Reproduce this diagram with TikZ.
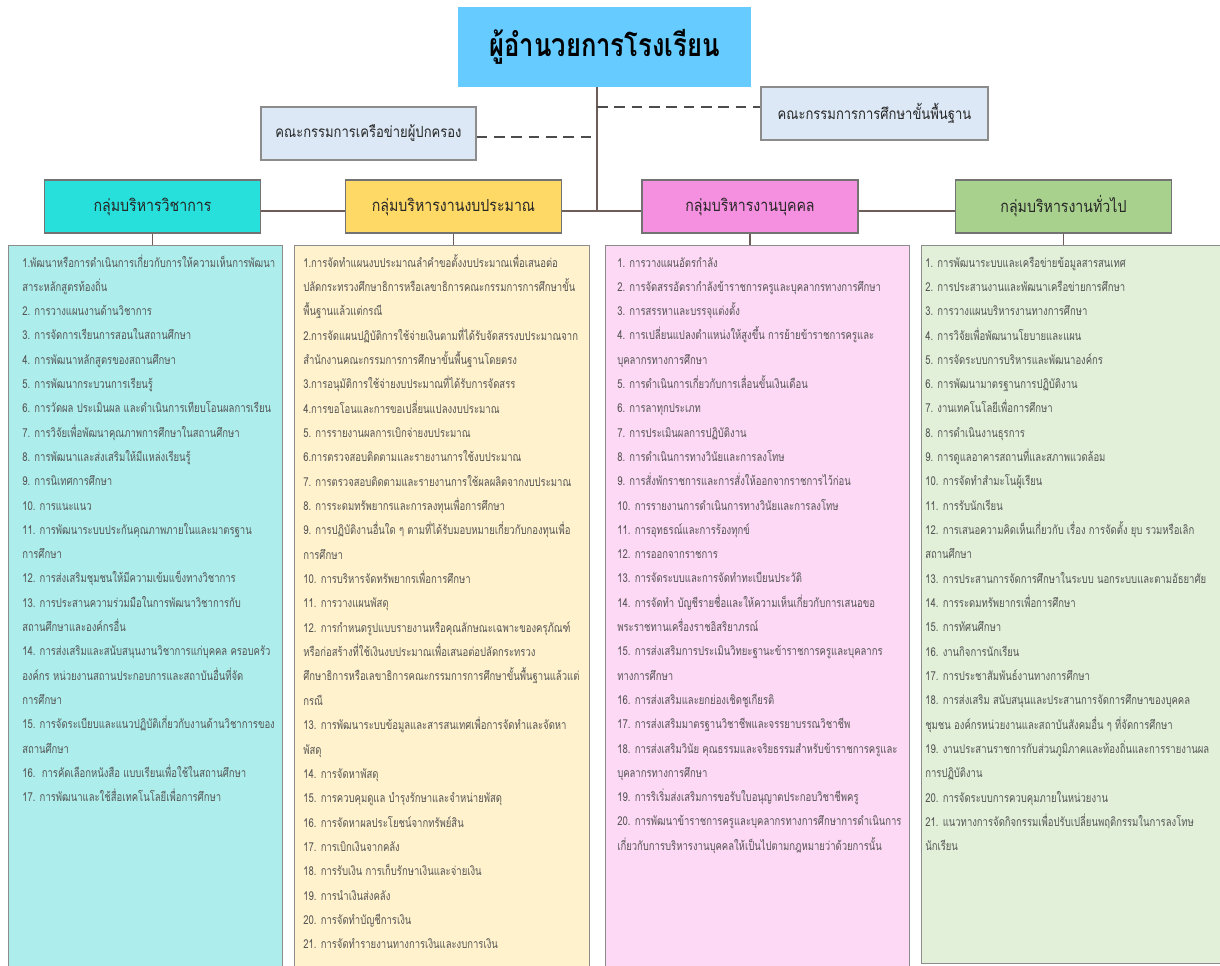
\documentclass[tikz,border=0pt]{standalone}
\usepackage{fontspec}
\setmainfont{Liberation Sans}
\newfontfamily\thaiitem[Script=Thai,FakeStretch=0.775]{Loma}
\newfontfamily\thaihead[Script=Thai,FakeStretch=0.85]{Loma}
\newfontfamily\thaititle[Script=Thai,FakeStretch=0.80]{Loma}
\definecolor{topblue}{HTML}{66CCFF}
\definecolor{comfill}{HTML}{DCE8F5}
\definecolor{gA}{HTML}{27E0DC}
\definecolor{gB}{HTML}{FFD966}
\definecolor{gC}{HTML}{F590E0}
\definecolor{gD}{HTML}{A9D18E}
\definecolor{lA}{HTML}{ADEEEC}
\definecolor{lB}{HTML}{FFF2CC}
\definecolor{lC}{HTML}{FDD9F5}
\definecolor{lD}{HTML}{E2F0D9}
\definecolor{conn}{HTML}{6E5D58}
\definecolor{itemtext}{HTML}{555555}
\definecolor{boxline}{HTML}{8C8C8C}
\tikzset{
  topbox/.style={fill=topblue, minimum width=219.75pt, minimum height=60pt, inner sep=0pt,
    font=\thaititle\bfseries\fontsize{24}{28}\selectfont, text=black},
  combox/.style={draw=boxline, line width=1pt, fill=comfill, minimum height=39.75pt, inner sep=0pt,
    font=\thaihead\fontsize{11.5}{13}\selectfont, text=black!85},
  grpbox/.style={draw=black!55, line width=1pt, minimum width=162pt, minimum height=39.75pt, inner sep=0pt,
    font=\thaihead\fontsize{12.5}{14}\selectfont, text=black!85},
  listbox/.style={draw=boxline, line width=1pt, anchor=north west, inner sep=0pt},
  item/.style={anchor=base west, inner sep=0pt, text=itemtext, font=\thaiitem\fontsize{9.2}{11}\selectfont},
  link/.style={draw=conn, line width=1.1pt},
  dlink/.style={draw=black!70, line width=1.4pt, dash pattern=on 8pt off 5pt}
}
\begin{document}
\begin{tikzpicture}[x=0.75pt,y=-0.75pt]
\useasboundingbox (0,0) rectangle (1220,965);
\clip (0,0) rectangle (1220,965);
\fill[white] (0,0) rectangle (1220,965);

% spine coordinates
\coordinate (hub) at (597,211);
\coordinate (dr) at (597,107);
\coordinate (dl) at (597,137);

% top and committee boxes
\node[topbox] (top) at (604.5,47) {ผู้อำนวยการโรงเรียน};
\node[combox, minimum width=161.25pt] (lc) at (368.5,133.5) {คณะกรรมการเครือข่ายผู้ปกครอง};
\node[combox, minimum width=170.25pt] (rc) at (874.5,113.5) {คณะกรรมการการศึกษาขั้นพื้นฐาน};

% group boxes
\node[grpbox, fill=gA] (g1) at (152.5,206.5) {กลุ่มบริหารวิชาการ};
\node[grpbox, fill=gB] (g2) at (453.5,206.5) {กลุ่มบริหารงานงบประมาณ};
\node[grpbox, fill=gC] (g3) at (750,206.5) {กลุ่มบริหารงานบุคคล};
\node[grpbox, fill=gD] (g4) at (1063.5,206.5) {กลุ่มบริหารงานทั่วไป};

% list boxes
\node[listbox, fill=lA, minimum width=205.5pt, minimum height=551.25pt] (l1) at (8,245) {};
\node[listbox, fill=lB, minimum width=221.25pt, minimum height=551.25pt] (l2) at (294,245) {};
\node[listbox, fill=lC, minimum width=228pt, minimum height=551.25pt] (l3) at (605,245) {};
\node[listbox, fill=lD, minimum width=231.75pt, minimum height=538.5pt] (l4) at (921,245) {};

% connectors
\draw[link] (hub |- top.south) -- (hub);
\draw[link] (g1.east |- hub) -- (g2.west |- hub);
\draw[link] (g2.east |- hub) -- (g3.west |- hub);
\draw[link] (g3.east |- hub) -- (g4.west |- hub);
\draw[link] (g1.south) -- (g1.south |- l1.north);
\draw[link] (g2.south) -- (g2.south |- l2.north);
\draw[link] (g3.south) -- (g3.south |- l3.north);
\draw[link] (g4.south) -- (g4.south |- l4.north);
\draw[dlink] (dr) -- (dr -| rc.west);
\draw[dlink] (lc.east |- dl) -- (dl);

% column 1
\foreach \t [count=\i] in {
1.พัฒนาหรือการดำเนินการเกี่ยวกับการให้ความเห็นการพัฒนา,
สาระหลักสูตรท้องถิ่น,
2. การวางแผนงานด้านวิชาการ,
3. การจัดการเรียนการสอนในสถานศึกษา,
4. การพัฒนาหลักสูตรของสถานศึกษา,
5. การพัฒนากระบวนการเรียนรู้,
6. การวัดผล ประเมินผล และดำเนินการเทียบโอนผลการเรียน,
7. การวิจัยเพื่อพัฒนาคุณภาพการศึกษาในสถานศึกษา,
8. การพัฒนาและส่งเสริมให้มีแหล่งเรียนรู้,
9. การนิเทศการศึกษา,
10. การแนะแนว,
11. การพัฒนาระบบประกันคุณภาพภายในและมาตรฐาน,
การศึกษา,
12. การส่งเสริมชุมชนให้มีความเข้มแข็งทางวิชาการ,
13. การประสานความร่วมมือในการพัฒนาวิชาการกับ,
สถานศึกษาและองค์กรอื่น,
14. การส่งเสริมและสนับสนุนงานวิชาการแก่บุคคล ครอบครัว,
องค์กร หน่วยงานสถานประกอบการและสถาบันอื่นที่จัด,
การศึกษา,
15. การจัดระเบียบและแนวปฏิบัติเกี่ยวกับงานด้านวิชาการของ,
สถานศึกษา,
16.\ \ การคัดเลือกหนังสือ แบบเรียนเพื่อใช้ในสถานศึกษา,
17. การพัฒนาและใช้สื่อเทคโนโลยีเพื่อการศึกษา}
  \node[item] (a\i) at (22,{267+24.3*(\i-1)}) {\t};

% column 2
\foreach \t [count=\i] in {
1.การจัดทำแผนงบประมาณลำคำขอตั้งงบประมาณเพื่อเสนอต่อ,
ปลัดกระทรวงศึกษาธิการหรือเลขาธิการคณะกรรมการการศึกษาขั้น,
พื้นฐานแล้วแต่กรณี,
2.การจัดแผนปฏิบัติการใช้จ่ายเงินตามที่ได้รับจัดสรรงบประมาณจาก,
สำนักงานคณะกรรมการการศึกษาขั้นพื้นฐานโดยตรง,
3.การอนุมัติการใช้จ่ายงบประมาณที่ได้รับการจัดสรร,
4.การขอโอนและการขอเปลี่ยนแปลงงบประมาณ,
5. การรายงานผลการเบิกจ่ายงบประมาณ,
6.การตรวจสอบติดตามและรายงานการใช้งบประมาณ,
7. การตรวจสอบติดตามและรายงานการใช้ผลผลิตจากงบประมาณ,
8. การระดมทรัพยากรและการลงทุนเพื่อการศึกษา,
9. การปฏิบัติงานอื่นใด ๆ ตามที่ได้รับมอบหมายเกี่ยวกับกองทุนเพื่อ,
การศึกษา,
10. การบริหารจัดทรัพยากรเพื่อการศึกษา,
11. การวางแผนพัสดุ,
12. การกำหนดรูปแบบรายงานหรือคุณลักษณะเฉพาะของครุภัณฑ์,
หรือก่อสร้างที่ใช้เงินงบประมาณเพื่อเสนอต่อปลัดกระทรวง,
ศึกษาธิการหรือเลขาธิการคณะกรรมการการศึกษาขั้นพื้นฐานแล้วแต่,
กรณี,
13. การพัฒนาระบบข้อมูลและสารสนเทศเพื่อการจัดทำและจัดหา,
พัสดุ,
14. การจัดหาพัสดุ,
15. การควบคุมดูแล บำรุงรักษาและจำหน่ายพัสดุ,
16. การจัดหาผลประโยชน์จากทรัพย์สิน,
17. การเบิกเงินจากคลัง,
18. การรับเงิน การเก็บรักษาเงินและจ่ายเงิน,
19. การนำเงินส่งคลัง,
20. การจัดทำบัญชีการเงิน,
21. การจัดทำรายงานทางการเงินและงบการเงิน}
  \node[item] (b\i) at (303,{267+24.35*(\i-1)}) {\t};

% column 3
\foreach \t [count=\i] in {
1. การวางแผนอัตรกำลัง,
2. การจัดสรรอัตรากำลังข้าราชการครูและบุคลากรทางการศึกษา,
3. การสรรหาและบรรจุแต่งตั้ง,
4. การเปลี่ยนแปลงตำแหน่งให้สูงขึ้น การย้ายข้าราชการครูและ,
บุคลากรทางการศึกษา,
5. การดำเนินการเกี่ยวกับการเลื่อนขั้นเงินเดือน,
6. การลาทุกประเภท,
7. การประเมินผลการปฏิบัติงาน,
8. การดำเนินการทางวินัยและการลงโทษ,
9. การสั่งพักราชการและการสั่งให้ออกจากราชการไว้ก่อน,
10. การรายงานการดำเนินการทางวินัยและการลงโทษ,
11. การอุทธรณ์และการร้องทุกข์,
12. การออกจากราชการ,
13. การจัดระบบและการจัดทำทะเบียนประวัติ,
14. การจัดทำ บัญชีรายชื่อและให้ความเห็นเกี่ยวกับการเสนอขอ,
พระราชทานเครื่องราชอิสริยาภรณ์,
15. การส่งเสริมการประเมินวิทยะฐานะข้าราชการครูและบุคลากร,
ทางการศึกษา,
16. การส่งเสริมและยกย่องเชิดชูเกียรติ,
17. การส่งเสริมมาตรฐานวิชาชีพและจรรยาบรรณวิชาชีพ,
18. การส่งเสริมวินัย คุณธรรมและจริยธรรมสำหรับข้าราชการครูและ,
บุคลากรทางการศึกษา,
19. การริเริ่มส่งเสริมการขอรับใบอนุญาตประกอบวิชาชีพครู,
20. การพัฒนาข้าราชการครูและบุคลากรทางการศึกษาการดำเนินการ,
เกี่ยวกับการบริหารงานบุคคลให้เป็นไปตามกฎหมายว่าด้วยการนั้น}
  \node[item] (c\i) at (617,{267+24.3*(\i-1)}) {\t};

% column 4
\foreach \t [count=\i] in {
1. การพัฒนาระบบและเครือข่ายข้อมูลสารสนเทศ,
2. การประสานงานและพัฒนาเครือข่ายการศึกษา,
3. การวางแผนบริหารงานทางการศึกษา,
4. การวิจัยเพื่อพัฒนานโยบายและแผน,
5. การจัดระบบการบริหารและพัฒนาองค์กร,
6. การพัฒนามาตรฐานการปฏิบัติงาน,
7. งานเทคโนโลยีเพื่อการศึกษา,
8. การดำเนินงานธุรการ,
9. การดูแลอาคารสถานที่และสภาพแวดล้อม,
10. การจัดทำสำมะโนผู้เรียน,
11. การรับนักเรียน,
12. การเสนอความคิดเห็นเกี่ยวกับ เรื่อง การจัดตั้ง ยุบ รวมหรือเลิก,
สถานศึกษา,
13. การประสานการจัดการศึกษาในระบบ นอกระบบและตามอัธยาศัย,
14. การระดมทรัพยากรเพื่อการศึกษา,
15. การทัศนศึกษา,
16. งานกิจการนักเรียน,
17. การประชาสัมพันธ์งานทางการศึกษา,
18. การส่งเสริม สนับสนุนและประสานการจัดการศึกษาของบุคคล,
ชุมชน องค์กรหน่วยงานและสถาบันสังคมอื่น ๆ ที่จัดการศึกษา,
19. งานประสานราชการกับส่วนภูมิภาคและท้องถิ่นและการรายงานผล,
การปฏิบัติงาน,
20. การจัดระบบการควบคุมภายในหน่วยงาน,
21. แนวทางการจัดกิจกรรมเพื่อปรับเปลี่ยนพฤติกรรมในการลงโทษ,
นักเรียน}
  \node[item] (d\i) at (925,{267+24.33*(\i-1)}) {\t};
\end{tikzpicture}
\end{document}
